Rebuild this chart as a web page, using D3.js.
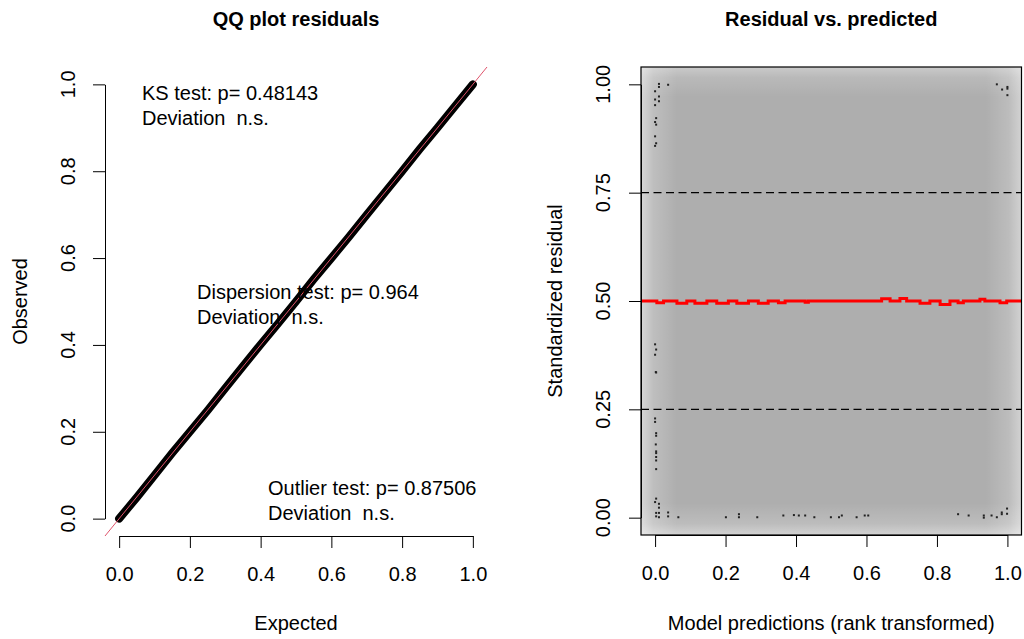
<!DOCTYPE html>
<html>
<head>
<meta charset="utf-8">
<script src="https://cdn.jsdelivr.net/npm/d3@7"></script>
<style>
  body { margin: 0; background: #fff; }
  svg { display: block; font-family: "Liberation Sans", Arial, sans-serif; }
</style>
</head>
<body>
<script>
// QQ plot: expected vs observed quantiles of the scaled residuals
const qqExpected = [0, 0.05, 0.1, 0.15, 0.2, 0.25, 0.3, 0.35, 0.4, 0.45, 0.5,
  0.55, 0.6, 0.65, 0.7, 0.75, 0.8, 0.85, 0.9, 0.95, 1];
const qqObserved = [0, 0.049, 0.1, 0.151, 0.2, 0.249, 0.3, 0.351, 0.401, 0.45, 0.5,
  0.551, 0.6, 0.649, 0.7, 0.75, 0.8, 0.851, 0.9, 0.95, 1];

const testLabels = ["KS test: p= 0.48143", "Dispersion test: p= 0.964", "Outlier test: p= 0.87506"];
const deviationLabels = ["Deviation  n.s.", "Deviation  n.s.", "Deviation  n.s."];

// residual vs predicted: rank transformed prediction and residual of outlying dots
const predX = [0.011, 0.011, 0.037, 0, 0.011, 0, 0.011, 0, 0.003, 0, 0.003, 0, 0.003, 0,
  0, 0.003, 0, 0.002, 0.003, 0, 0, 0.003, 0.003, 0.002, 0.003, 0.003, 0.003, 0.003, 0.003,
  0.003, 0, 0.011, 0.011, 0.003, 0.011, 0.003, 0.011, 0.037, 0.037, 0.066,
  0.201, 0.238, 0.238, 0.290, 0.364, 0.394, 0.408, 0.426, 0.452, 0.499, 0.522, 0.530,
  0.572, 0.595, 0.605, 0.860, 0.890, 0.933, 0.933, 0.955, 0.970, 0.984, 0.984, 0.999, 0.999,
  0.970, 0.985, 1.0, 1.0, 1.0];
const predY = [1.001, 0.994, 0.999, 0.984, 0.972, 0.965, 0.961, 0.952, 0.922, 0.913, 0.907, 0.880, 0.864, 0.858,
  0.400, 0.388, 0.376, 0.336, 0.335, 0.229, 0.221, 0.195, 0.189, 0.169, 0.153, 0.149, 0.140, 0.132, 0.112,
  0.044, 0.036, 0.032, 0.023, 0.011, 0.011, 0.003, 0.001, 0.012, 0.003, 0.001,
  0.001, 0.008, 0.001, 0.001, 0.005, 0.006, 0.005, 0.005, 0.001, 0.001, 0.001, 0.005,
  0.001, 0.005, 0.005, 0.008, 0.005, 0.005, 0.000, 0.005, 0.001, 0.012, 0.008, 0.021, 0.009,
  1.000, 0.988, 0.994, 0.990, 0.975];

// fitted median quantile line
const medianX = [-0.04, 0.005, 0.005, 0.024, 0.024, 0.062, 0.062, 0.090, 0.090, 0.113, 0.113, 0.147, 0.147,
  0.175, 0.175, 0.208, 0.208, 0.232, 0.232, 0.265, 0.265, 0.293, 0.293, 0.321, 0.321, 0.350, 0.350,
  0.369, 0.369, 0.426, 0.426, 0.435, 0.435, 0.643, 0.643, 0.667, 0.667, 0.695, 0.695, 0.714, 0.714,
  0.752, 0.752, 0.780, 0.780, 0.809, 0.809, 0.837, 0.837, 0.860, 0.860, 0.875, 0.875, 0.922, 0.922,
  0.936, 0.936, 0.979, 0.979, 0.998, 0.998, 1.04];
const medianY = [0.5, 0.5, 0.496, 0.496, 0.5, 0.5, 0.495, 0.495, 0.5, 0.5, 0.495, 0.495, 0.5,
  0.5, 0.495, 0.495, 0.5, 0.5, 0.495, 0.495, 0.5, 0.5, 0.495, 0.495, 0.5, 0.5, 0.496,
  0.496, 0.5, 0.5, 0.497, 0.497, 0.5, 0.5, 0.505, 0.505, 0.5, 0.5, 0.506, 0.506, 0.5,
  0.5, 0.495, 0.495, 0.5, 0.5, 0.492, 0.492, 0.5, 0.5, 0.496, 0.496, 0.5, 0.5, 0.504,
  0.504, 0.5, 0.5, 0.496, 0.496, 0.5, 0.5];

const refLines = [0.25, 0.75];
const xTicks = [0, 0.2, 0.4, 0.6, 0.8, 1];
const yTicksLeft = [0, 0.2, 0.4, 0.6, 0.8, 1];
const yTicksRight = [0, 0.25, 0.5, 0.75, 1];

const width = 1024, height = 639;
const fs = 20;

const svg = d3.select("body").append("svg")
  .attr("width", width)
  .attr("height", height);

// soft light border of the density background
const defs = svg.append("defs");
function fade(id, x1, y1, x2, y2, op) {
  const g = defs.append("linearGradient").attr("id", id)
    .attr("x1", x1).attr("y1", y1).attr("x2", x2).attr("y2", y2);
  g.append("stop").attr("offset", 0).attr("stop-color", "#fff").attr("stop-opacity", op);
  g.append("stop").attr("offset", 0.35).attr("stop-color", "#fff").attr("stop-opacity", op * 0.4);
  g.append("stop").attr("offset", 1).attr("stop-color", "#fff").attr("stop-opacity", 0);
}
fade("fl", 0, 0, 1, 0, 0.5);
fade("fr", 1, 0, 0, 0, 0.45);
fade("ft", 0, 0, 0, 1, 0.35);
fade("fb", 0, 1, 0, 0, 0.45);

// ---------- left panel ----------
const xL = d3.scaleLinear().domain([-0.04, 1.04]).range([105, 487]);
const yL = d3.scaleLinear().domain([-0.04, 1.04]).range([536, 67]);

const left = svg.append("g");

left.append("text")
  .attr("x", (xL.range()[0] + xL.range()[1]) / 2)
  .attr("y", 25.5)
  .attr("text-anchor", "middle")
  .attr("font-weight", "bold")
  .attr("font-size", fs)
  .text("QQ plot residuals");

left.append("path")
  .datum(d3.zip(qqExpected, qqObserved))
  .attr("fill", "none")
  .attr("stroke", "#000")
  .attr("stroke-width", 8)
  .attr("stroke-linecap", "round")
  .attr("d", d3.line().x((d) => xL(d[0])).y((d) => yL(d[1])));

left.append("line")
  .attr("x1", xL(-0.04)).attr("y1", yL(-0.04))
  .attr("x2", xL(1.04)).attr("y2", yL(1.04))
  .attr("stroke", "#df536b")
  .attr("stroke-width", 1);

const xAxisL = d3.axisBottom(d3.scaleLinear().domain([0, 1]).range([xL(0), xL(1)]))
  .tickValues(xTicks).tickSize(12).tickSizeOuter(0).tickPadding(19)
  .tickFormat(d3.format(".1f"));
left.append("g").attr("transform", `translate(0,${yL.range()[0]})`).call(xAxisL);

const yAxisL = d3.axisLeft(d3.scaleLinear().domain([0, 1]).range([yL(0), yL(1)]))
  .tickValues(yTicksLeft).tickSize(12).tickSizeOuter(0).tickFormat("");
left.append("g").attr("transform", `translate(${xL.range()[0]},0)`).call(yAxisL);

left.append("g").selectAll("text")
  .data(yTicksLeft)
  .join("text")
  .attr("transform", (d) => `translate(75,${yL(d)}) rotate(-90)`)
  .attr("text-anchor", "middle")
  .attr("font-size", fs)
  .text(d3.format(".1f"));

left.append("text")
  .attr("x", (xL.range()[0] + xL.range()[1]) / 2)
  .attr("y", 630)
  .attr("text-anchor", "middle")
  .attr("font-size", fs)
  .text("Expected");

left.append("text")
  .attr("transform", `translate(27,${(yL.range()[0] + yL.range()[1]) / 2}) rotate(-90)`)
  .attr("text-anchor", "middle")
  .attr("font-size", fs)
  .text("Observed");

// test results, placed like the legends topleft / center / bottomright
const testPos = [[142, 100], [197, 299], [268, 495]];
const tests = left.append("g").attr("font-size", fs);
const keepSpaces = (s) => s.replace(/  /g, " \u00a0");
testLabels.forEach((t, i) => {
  tests.append("text").attr("x", testPos[i][0]).attr("y", testPos[i][1]).text(t);
  tests.append("text").attr("x", testPos[i][0]).attr("y", testPos[i][1] + 24.5)
    .text(keepSpaces(deviationLabels[i]));
});

// ---------- right panel ----------
const xR = d3.scaleLinear().domain([-0.04, 1.04]).range([641, 1021.5]);
const yR = d3.scaleLinear().domain([-0.04, 1.04]).range([535, 67]);
const [bx0, bx1] = xR.range();
const [by1, by0] = yR.range();

const right = svg.append("g");

right.append("text")
  .attr("x", (bx0 + bx1) / 2)
  .attr("y", 25.5)
  .attr("text-anchor", "middle")
  .attr("font-weight", "bold")
  .attr("font-size", fs)
  .text("Residual vs. predicted");

right.append("rect")
  .attr("x", bx0).attr("y", by0).attr("width", bx1 - bx0).attr("height", by1 - by0)
  .attr("fill", "#aeaeae");
right.append("rect").attr("x", bx0).attr("y", by0).attr("width", 36).attr("height", by1 - by0).attr("fill", "url(#fl)");
right.append("rect").attr("x", bx1 - 36).attr("y", by0).attr("width", 36).attr("height", by1 - by0).attr("fill", "url(#fr)");
right.append("rect").attr("x", bx0).attr("y", by0).attr("width", bx1 - bx0).attr("height", 30).attr("fill", "url(#ft)");
right.append("rect").attr("x", bx0).attr("y", by1 - 32).attr("width", bx1 - bx0).attr("height", 32).attr("fill", "url(#fb)");

right.append("g").selectAll("line")
  .data(refLines)
  .join("line")
  .attr("x1", bx0).attr("x2", bx1)
  .attr("y1", (d) => yR(d)).attr("y2", (d) => yR(d))
  .attr("stroke", "#000")
  .attr("stroke-width", 1.2)
  .attr("stroke-dasharray", "8,4.5");

right.append("g").selectAll("rect")
  .data(d3.zip(predX, predY))
  .join("rect")
  .attr("x", (d) => xR(d[0]) - 1)
  .attr("y", (d) => yR(d[1]) - 1)
  .attr("width", 2)
  .attr("height", 2)
  .attr("fill", "#222");

right.append("path")
  .datum(d3.zip(medianX, medianY))
  .attr("fill", "none")
  .attr("stroke", "#ff0000")
  .attr("stroke-width", 3)
  .attr("d", d3.line().x((d) => xR(d[0])).y((d) => yR(d[1])));

right.append("rect")
  .attr("x", bx0).attr("y", by0).attr("width", bx1 - bx0).attr("height", by1 - by0)
  .attr("fill", "none").attr("stroke", "#000").attr("stroke-width", 1.2);

const xAxisR = d3.axisBottom(d3.scaleLinear().domain([0, 1]).range([xR(0), xR(1)]))
  .tickValues(xTicks).tickSize(12).tickSizeOuter(0).tickPadding(19)
  .tickFormat(d3.format(".1f"));
right.append("g").attr("transform", `translate(0,${by1})`).call(xAxisR);

const yAxisR = d3.axisLeft(d3.scaleLinear().domain([0, 1]).range([yR(0), yR(1)]))
  .tickValues(yTicksRight).tickSize(12).tickSizeOuter(0).tickFormat("");
right.append("g").attr("transform", `translate(${bx0},0)`).call(yAxisR);

right.append("g").selectAll("text")
  .data(yTicksRight)
  .join("text")
  .attr("transform", (d) => `translate(610,${yR(d)}) rotate(-90)`)
  .attr("text-anchor", "middle")
  .attr("font-size", fs)
  .text(d3.format(".2f"));

right.append("text")
  .attr("x", (bx0 + bx1) / 2)
  .attr("y", 630)
  .attr("text-anchor", "middle")
  .attr("font-size", fs)
  .text("Model predictions (rank transformed)");

right.append("text")
  .attr("transform", `translate(562,${(by0 + by1) / 2}) rotate(-90)`)
  .attr("text-anchor", "middle")
  .attr("font-size", fs)
  .text("Standardized residual");

svg.selectAll(".tick text").attr("font-size", fs).attr("fill", "#000")
  .attr("font-family", '"Liberation Sans", Arial, sans-serif');
svg.selectAll(".tick line, .domain").attr("stroke", "#000");
</script>
</body>
</html>
